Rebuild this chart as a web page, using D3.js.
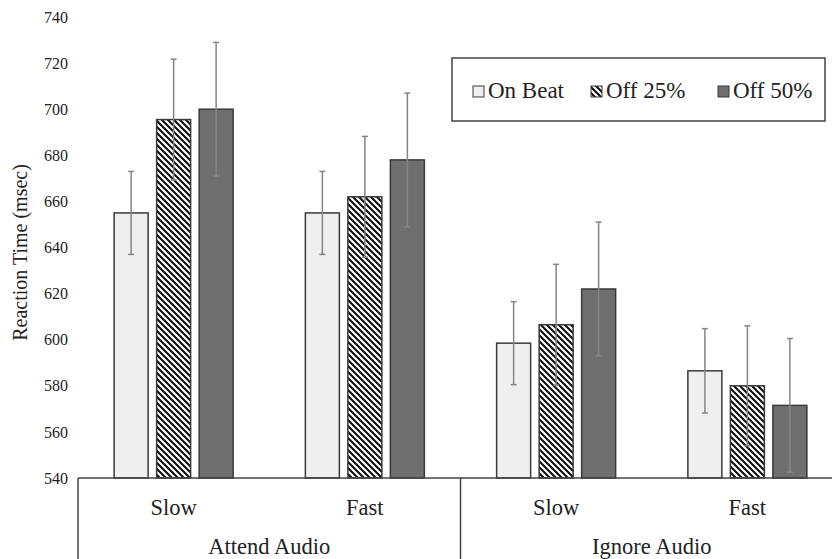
<!DOCTYPE html>
<html><head><meta charset="utf-8">
<script src="https://cdn.jsdelivr.net/npm/d3@7/dist/d3.min.js"></script>
<style>body{margin:0;background:#fff}svg{display:block}text{font-family:"Liberation Serif","Times New Roman",Tinos,"DejaVu Serif","Noto Serif",serif;fill:#222}</style>
</head><body>
<svg id="chart" width="832" height="559"></svg>
<script>
const FONT = '"Liberation Serif","Times New Roman",Tinos,"DejaVu Serif","Noto Serif",serif';
const groups = ["Attend Audio", "Ignore Audio"];
const speeds = ["Slow", "Fast"];
const series = ["On Beat", "Off 25%", "Off 50%"];
// values per cluster: Attend-Slow, Attend-Fast, Ignore-Slow, Ignore-Fast
const onBeat = [655, 655, 598.5, 586.5];
const off25 = [695.5, 662, 606.5, 580];
const off50 = [700, 678, 622, 571.5];
const errOnBeat = [18, 18, 18, 18.3];
const errOff25 = [26.2, 26.2, 26.2, 26];
const errOff50 = [29, 29, 29, 29];
const yTicks = [540, 560, 580, 600, 620, 640, 660, 680, 700, 720, 740];

const svg = d3.select("#chart");
const clusters = [];
groups.forEach(g => speeds.forEach(s => clusters.push(g + "|" + s)));
const vals = [onBeat, off25, off50];
const errs = [errOnBeat, errOff25, errOff50];
const data = [];
clusters.forEach((c, i) => series.forEach((s, j) => data.push({c, s, v: vals[j][i], e: errs[j][i]})));

const y = d3.scaleLinear().domain([540, 740]).range([478, 17]);
const x0 = d3.scaleBand().domain(clusters).range([78, 843]);
const xg = d3.scaleBand().domain(groups).range([78, 843]);
const x1 = d3.scaleBand().domain(series).range([0, x0.bandwidth()]).paddingInner(0.2).paddingOuter(0.85);

const defs = svg.append("defs");
const pat = defs.append("pattern").attr("id", "hatch").attr("patternUnits", "userSpaceOnUse")
  .attr("width", 6).attr("height", 6);
pat.append("rect").attr("width", 6).attr("height", 6).attr("fill", "#fff");
pat.append("path").attr("d", "M0,0L6,6M-3,3L3,9M3,-3L9,3").attr("stroke", "#111").attr("stroke-width", 2.1);

const fills = {"On Beat": "#efefef", "Off 25%": "url(#hatch)", "Off 50%": "#6f6f6f"};

// y axis labels
const ax = svg.append("g").attr("transform", "translate(78,0)")
  .call(d3.axisLeft(y).tickValues(yTicks).tickSize(0).tickPadding(10).tickFormat(d3.format("d")));
ax.attr("font-family", null).attr("font-size", null);
ax.select(".domain").remove();
ax.selectAll("text").style("font-family", FONT).style("font-size", "16px").attr("fill", "#333");

svg.append("text").attr("transform", "translate(27,252.5) rotate(-90)").attr("text-anchor", "middle")
  .style("font-family", FONT).style("font-size", "20px").text("Reaction Time (msec)");

// bars
svg.append("g").selectAll("rect").data(data).join("rect")
  .attr("x", d => x0(d.c) + x1(d.s)).attr("width", x1.bandwidth())
  .attr("y", d => y(d.v)).attr("height", d => y(540) - y(d.v))
  .attr("fill", d => fills[d.s]).attr("stroke", "#3a3a3a").attr("stroke-width", 1.5);

// error bars
const eg = svg.append("g").attr("stroke", "#858585").attr("stroke-width", 1.5);
data.forEach(d => {
  const cx = x0(d.c) + x1(d.s) + x1.bandwidth() / 2;
  eg.append("line").attr("x1", cx).attr("x2", cx).attr("y1", y(d.v - d.e)).attr("y2", y(d.v + d.e));
  eg.append("line").attr("x1", cx - 3).attr("x2", cx + 3).attr("y1", y(d.v + d.e)).attr("y2", y(d.v + d.e));
  eg.append("line").attr("x1", cx - 3).attr("x2", cx + 3).attr("y1", y(d.v - d.e)).attr("y2", y(d.v - d.e));
});

// category frame
const fr = svg.append("g").attr("stroke", "#444").attr("stroke-width", 1.5);
fr.append("line").attr("x1", 78).attr("x2", 843).attr("y1", y(540)).attr("y2", y(540));
[78, xg(groups[1]), 843].forEach(xv => fr.append("line").attr("x1", xv).attr("x2", xv).attr("y1", y(540)).attr("y2", 570));

svg.append("g").selectAll("text").data(clusters).join("text")
  .attr("x", c => x0(c) + x0.bandwidth() / 2).attr("y", 515).attr("text-anchor", "middle")
  .style("font-family", FONT).style("font-size", "22.5px").text(c => c.split("|")[1]);
svg.append("g").selectAll("text").data(groups).join("text")
  .attr("x", g => xg(g) + xg.bandwidth() / 2).attr("y", 554).attr("text-anchor", "middle")
  .style("font-family", FONT).style("font-size", "22.5px").text(g => g);

// legend
const lg = svg.append("g");
lg.append("rect").attr("x", 452).attr("y", 58).attr("width", 373).attr("height", 63)
  .attr("fill", "#fff").attr("stroke", "#444").attr("stroke-width", 1.5);
const legX = [473, 591, 718];
series.forEach((s, i) => {
  lg.append("rect").attr("x", legX[i]).attr("y", 86).attr("width", 11).attr("height", 11)
    .attr("fill", fills[s]).attr("stroke", "#3a3a3a").attr("stroke-width", 1);
  lg.append("text").attr("x", legX[i] + 15).attr("y", 97.5).style("font-family", FONT).style("font-size", "23px").text(s);
});
</script>
</body></html>
